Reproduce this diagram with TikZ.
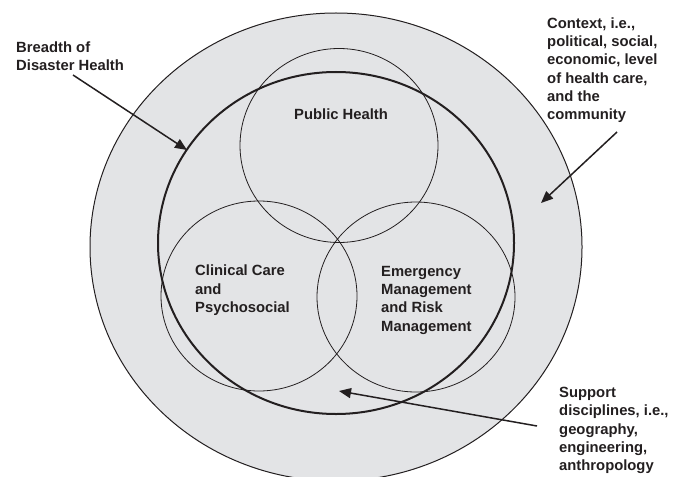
\documentclass[tikz,border=0pt]{standalone}
\usepackage{fontspec}
\setmainfont{Liberation Sans}
\usetikzlibrary{arrows.meta}
\definecolor{ringgray}{HTML}{E3E4E6}
\definecolor{ink}{HTML}{231F20}
\begin{document}
\begin{tikzpicture}[x=1pt,y=-1pt,
  lbl/.style={anchor=north west,inner sep=0pt,align=left,text=ink,
    font=\fontsize{14.8}{18.3}\selectfont\bfseries},
  thin/.style={draw=ink,line width=0.8pt},
  pointer/.style={draw=ink,line width=1.5pt,-{Triangle[length=12pt,width=10pt]}}]
\useasboundingbox (0,0) rectangle (684,476);
\begin{scope}
\clip (0,0) rectangle (684,476);
\draw[fill=ringgray,draw=ink,line width=1pt] (336,247) ellipse [x radius=246, y radius=234];
\end{scope}
\draw[thin] (339,145.5) ellipse [x radius=99, y radius=97];
\draw[thin] (259,296) ellipse [x radius=98, y radius=95];
\draw[thin] (416,297) ellipse [x radius=99, y radius=95];
\draw[draw=ink,line width=2pt] (336,243) ellipse [x radius=178, y radius=171];

\node[lbl] (breadth) at (16,41.3) {Breadth of\\Disaster Health};
\node[lbl] (context) at (547,17.3) {Context, i.e.,\\political, social,\\economic, level\\of health care,\\and the\\community};
\node[lbl] (support) at (559,387) {Support\\disciplines, i.e.,\\geography,\\engineering,\\anthropology};
\node[lbl] (public) at (294,109) {Public Health};
\node[lbl] (clinical) at (195,265) {Clinical Care\\and\\Psychosocial};
\node[lbl] (emerg) at (381,266) {Emergency\\Management\\and Risk\\Management};

\coordinate (b0) at (73,75);
\coordinate (b1) at (187,150);
\coordinate (c0) at (617,132);
\coordinate (c1) at (541,203);
\coordinate (s0) at (537,426);
\coordinate (s1) at (339,391);
\draw[pointer] (b0) -- (b1);
\draw[pointer] (c0) -- (c1);
\draw[pointer] (s0) -- (s1);
\end{tikzpicture}
\end{document}
